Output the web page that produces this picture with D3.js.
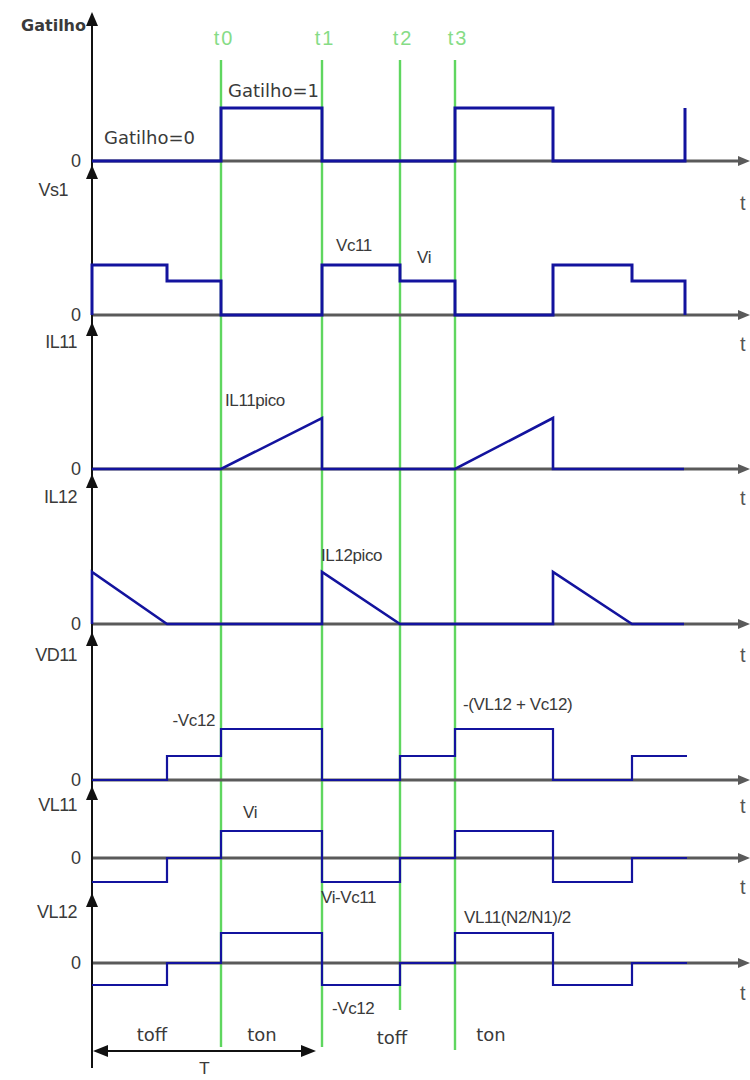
<!DOCTYPE html>
<html>
<head>
<meta charset="utf-8">
<script src="https://cdn.jsdelivr.net/npm/d3@7/dist/d3.min.js"></script>
<style>
  html, body { margin: 0; padding: 0; background: #fff; }
  svg { display: block; }
</style>
</head>
<body>
<script>
// ---- waveform data (time in units of 1/100 of the drawing scale, amplitude in relative units) ----
const signalNames = ["Gatilho", "Vs1", "IL11", "IL12", "VD11", "VL11", "VL12"];

const gatilho = [[0,0],[1.29,0],[1.29,1.06],[2.30,1.06],[2.30,0],[3.63,0],[3.63,1.06],[4.61,1.06],[4.61,0],[5.93,0],[5.93,1.06]];
const vs1     = [[0,0],[0,1],[0.75,1],[0.75,0.68],[1.29,0.68],[1.29,0],[2.30,0],[2.30,1],[3.08,1],[3.08,0.68],[3.63,0.68],[3.63,0],[4.61,0],[4.61,1],[5.40,1],[5.40,0.68],[5.93,0.68],[5.93,0]];
const il11    = [[0,0],[1.29,0],[2.30,1.02],[2.30,0],[3.63,0],[4.61,1.02],[4.61,0],[5.92,0]];
const il12    = [[0,0],[0,1.04],[0.75,0],[2.30,0],[2.30,1.04],[3.08,0],[4.61,0],[4.61,1.04],[5.40,0],[5.92,0]];
const vd11    = [[0,0],[0.75,0],[0.75,0.48],[1.29,0.48],[1.29,1.02],[2.30,1.02],[2.30,0],[3.08,0],[3.08,0.48],[3.63,0.48],[3.63,1.02],[4.61,1.02],[4.61,0],[5.40,0],[5.40,0.48],[5.95,0.48]];
const vl11    = [[0,-0.48],[0.75,-0.48],[0.75,0],[1.29,0],[1.29,0.54],[2.30,0.54],[2.30,-0.48],[3.08,-0.48],[3.08,0],[3.63,0],[3.63,0.54],[4.61,0.54],[4.61,-0.48],[5.40,-0.48],[5.40,0],[5.95,0]];
const vl12    = [[0,-0.44],[0.75,-0.44],[0.75,0],[1.29,0],[1.29,0.60],[2.30,0.60],[2.30,-0.44],[3.08,-0.44],[3.08,0],[3.63,0],[3.63,0.60],[4.61,0.60],[4.61,-0.44],[5.40,-0.44],[5.40,0],[5.95,0]];

const markerTimes  = [1.29, 2.30, 3.08, 3.63];
const markerNames  = ["t0", "t1", "t2", "t3"];
const intervalNames = ["toff", "ton", "toff", "ton"];
const intervalMids  = [0.60, 1.70, 3.00, 3.99];
const periodSpan   = [0.01, 2.24];
const periodName   = "T";
const timeName     = "t";
const zeroName     = "0";
const noteTexts    = ["Gatilho=1", "Gatilho=0", "Vc11", "Vi", "IL11pico", "IL12pico",
                      "-Vc12", "-(VL12 + Vc12)", "Vi", "Vi-Vc11", "VL11(N2/N1)/2", "-Vc12"];

// ---- layout ----
const W = 750, H = 1080;
const svg = d3.select("body").append("svg").attr("width", W).attr("height", H);

const x = d3.scaleLinear().domain([0, 6.5]).range([92, 742]);
const baselines = [161, 315, 469, 624, 780, 858, 963];
const axisTips  = [12, 165, 322, 474, 632, 786, 893];
const ys = baselines.map(b => d3.scaleLinear().domain([0, 1]).range([b, b - 50]));
const series = [gatilho, vs1, il11, il12, vd11, vl11, vl12];
const strokeW = [3, 3, 2.6, 2.6, 2.2, 2.2, 2.2];

const BLUE = "#13139e", GREEN = "#5fd65f", GREEN_TXT = "#86dc86", AXIS = "#5a5a5a", TXT = "#3a3a3a";
const SANS = "'Liberation Sans', Arial, sans-serif";
const DJV = "'DejaVu Sans', Verdana, sans-serif";

// time markers (green)
const markerEnds = [1047, 1047, 1010, 1050];
svg.append("g").selectAll("line").data(markerTimes).join("line")
  .attr("x1", d => x(d)).attr("x2", d => x(d))
  .attr("y1", 60).attr("y2", (d, i) => markerEnds[i])
  .attr("stroke", GREEN).attr("stroke-width", 2.4);
svg.append("g").selectAll("text").data(markerNames).join("text")
  .attr("x", (d, i) => x(markerTimes[i]) + 3).attr("y", 38)
  .attr("text-anchor", "middle").attr("dominant-baseline", "central")
  .attr("font-family", SANS).attr("font-size", 20).attr("letter-spacing", 2)
  .attr("fill", GREEN_TXT).text(d => d);

// baselines with right arrowheads
const base = svg.append("g");
baselines.forEach((b, i) => {
  base.append("line").attr("x1", x(0)).attr("x2", 744).attr("y1", b).attr("y2", b)
    .attr("stroke", AXIS).attr("stroke-width", 3);
  base.append("path").attr("d", `M738,${b - 5}L750,${b}L738,${b + 5}Z`).attr("fill", AXIS);
});

// vertical axis with upward arrowheads
svg.append("line").attr("x1", x(0)).attr("x2", x(0)).attr("y1", 14).attr("y2", 1068)
  .attr("stroke", "#111").attr("stroke-width", 2);
svg.append("g").selectAll("path").data(axisTips).join("path")
  .attr("d", t => `M${x(0)},${t}L${x(0) + 6},${t + 14}L${x(0) - 6},${t + 14}Z`)
  .attr("fill", "#111");

// waveforms
const line = d3.line();
series.forEach((s, i) => {
  svg.append("path")
    .attr("d", line(s.map(p => [x(p[0]), ys[i](p[1])])))
    .attr("fill", "none").attr("stroke", BLUE).attr("stroke-width", strokeW[i])
    .attr("stroke-linejoin", "miter").attr("stroke-linecap", "butt");
});

// signal names on the left
const nameY = [25, 190, 342, 497, 655, 805, 912];
svg.append("g").selectAll("text").data(signalNames).join("text")
  .attr("x", (d, i) => i === 0 ? 86 : (i === 1 ? 68 : 77))
  .attr("y", (d, i) => nameY[i])
  .attr("text-anchor", "end").attr("dominant-baseline", "central")
  .attr("font-family", (d, i) => i === 0 ? DJV : SANS)
  .attr("font-weight", (d, i) => i === 0 ? "bold" : "normal")
  .attr("font-size", (d, i) => i === 0 ? 16 : 18)
  .attr("letter-spacing", (d, i) => i === 0 ? 0 : -0.5)
  .attr("fill", TXT).text(d => d);

// zero labels
svg.append("g").selectAll("text").data(baselines).join("text")
  .attr("x", 76).attr("y", b => b)
  .attr("text-anchor", "middle").attr("dominant-baseline", "central")
  .attr("font-family", SANS).attr("font-size", 18).attr("fill", TXT).text(zeroName);

// time labels at the right edge
const tY = [203, 344, 498, 655, 806, 887, 993];
svg.append("g").selectAll("text").data(tY).join("text")
  .attr("x", 740).attr("y", d => d).attr("dominant-baseline", "central")
  .attr("font-family", SANS).attr("font-size", 20).attr("fill", "#555").text(timeName);

// value annotations: [panel, time, amplitude, anchor, font]
const notePlace = [
  [0, 1.36, 1.42, "start", DJV], [0, 0.12, 0.48, "start", DJV],
  [1, 2.44, 1.40, "start", SANS], [1, 3.25, 1.16, "start", SANS],
  [2, 1.33, 1.38, "start", SANS], [3, 2.29, 1.38, "start", SANS],
  [4, 1.23, 1.20, "end", SANS], [4, 3.71, 1.52, "start", SANS],
  [5, 1.51, 0.92, "start", SANS], [5, 2.29, -0.78, "start", SANS],
  [6, 3.72, 0.92, "start", SANS], [6, 2.40, -0.90, "start", SANS]
];
svg.append("g").selectAll("text").data(noteTexts).join("text")
  .attr("x", (d, i) => x(notePlace[i][1]))
  .attr("y", (d, i) => ys[notePlace[i][0]](notePlace[i][2]))
  .attr("text-anchor", (d, i) => notePlace[i][3])
  .attr("dominant-baseline", "central")
  .attr("font-family", (d, i) => notePlace[i][4])
  .attr("font-size", (d, i) => notePlace[i][4] === DJV ? 18 : 17)
  .attr("letter-spacing", (d, i) => notePlace[i][4] === DJV ? 0 : -0.4)
  .attr("fill", TXT).text(d => d);

// interval names under the traces
svg.append("g").selectAll("text").data(intervalNames).join("text")
  .attr("x", (d, i) => x(intervalMids[i])).attr("y", (d, i) => i === 2 ? 1037 : 1034)
  .attr("text-anchor", "middle").attr("dominant-baseline", "central")
  .attr("font-family", DJV).attr("font-size", 18).attr("fill", TXT).text(d => d);

// period arrow
const py = 1051;
const pa = svg.append("g");
pa.append("line").attr("x1", x(periodSpan[0]) + 6).attr("x2", x(periodSpan[1]) - 6)
  .attr("y1", py).attr("y2", py).attr("stroke", "#111").attr("stroke-width", 2);
pa.append("path").attr("d", `M${x(periodSpan[0])},${py}L${x(periodSpan[0]) + 15},${py - 6}L${x(periodSpan[0]) + 15},${py + 6}Z`).attr("fill", "#111");
pa.append("path").attr("d", `M${x(periodSpan[1])},${py}L${x(periodSpan[1]) - 15},${py - 6}L${x(periodSpan[1]) - 15},${py + 6}Z`).attr("fill", "#111");
pa.append("text").attr("x", x((periodSpan[0] + periodSpan[1]) / 2)).attr("y", 1068)
  .attr("text-anchor", "middle").attr("dominant-baseline", "central")
  .attr("font-family", DJV).attr("font-size", 16).attr("fill", TXT).text(periodName);
</script>
</body>
</html>
